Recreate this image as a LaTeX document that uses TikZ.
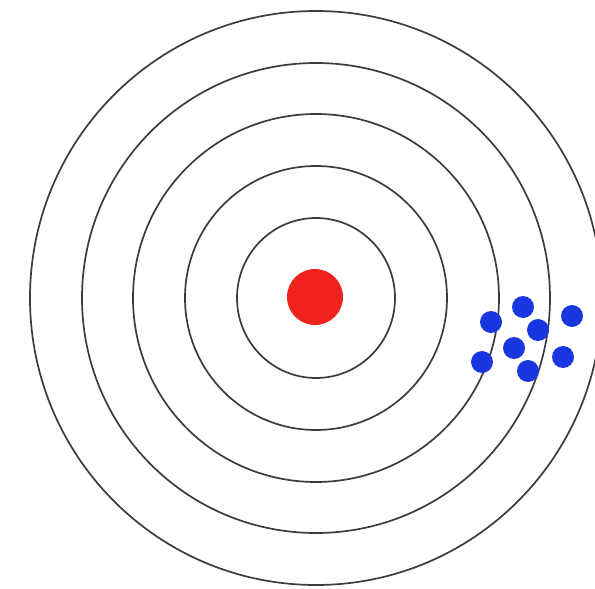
\documentclass[tikz,border=0pt]{standalone}
\definecolor{ringgray}{RGB}{60,60,60}
\definecolor{hitblue}{RGB}{25,55,225}
\definecolor{bullred}{RGB}{240,35,30}
\tikzset{
  ring/.style={draw=ringgray, line width=1.7pt},
  hit/.style={circle, fill=hitblue, minimum size=22pt, inner sep=0pt},
  bull/.style={circle, fill=bullred, minimum size=56pt, inner sep=0pt}
}
\begin{document}
\begin{tikzpicture}[x=1pt,y=-1pt]
\useasboundingbox[fill=white] (0,0) rectangle (595,589);
\coordinate (c) at (316,298);
\foreach \r in {80,132,184,235,287} \draw[ring] (c) circle[x radius=\r-1, y radius=\r];
\node[bull] (bull) at (315,297) {};
\node[hit] (h1) at (491,322) {};
\node[hit] (h2) at (523,307) {};
\node[hit] (h3) at (572,316) {};
\node[hit] (h4) at (538,330) {};
\node[hit] (h5) at (514,348) {};
\node[hit] (h6) at (482,362) {};
\node[hit] (h7) at (528,371) {};
\node[hit] (h8) at (563,357) {};
\end{tikzpicture}
\end{document}
